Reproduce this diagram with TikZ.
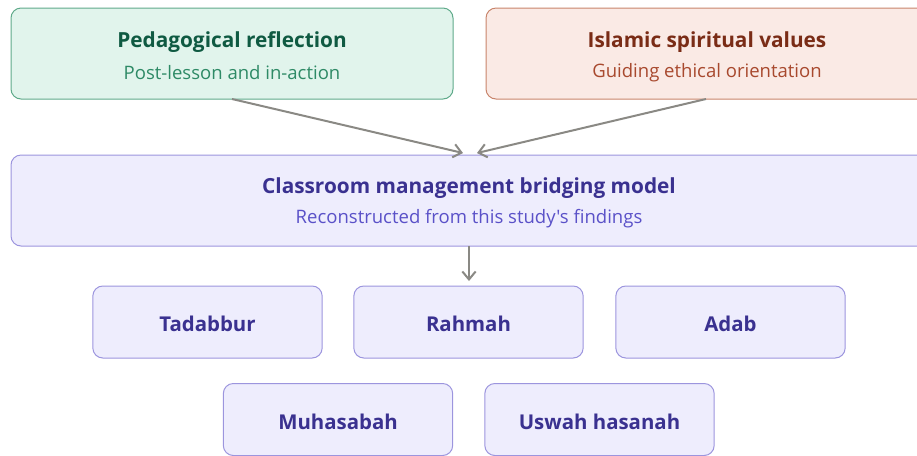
\documentclass[tikz,border=0pt]{standalone}
\usepackage{fontspec}
\setmainfont{Open Sans}[Ligatures=TeXOff]
\usetikzlibrary{arrows.meta}

\definecolor{grnFill}{HTML}{E1F4EC}
\definecolor{grnLine}{HTML}{5FAA8A}
\definecolor{grnTitle}{HTML}{0F5A42}
\definecolor{grnSub}{HTML}{2E8A66}
\definecolor{redFill}{HTML}{FAEAE5}
\definecolor{redLine}{HTML}{C8846B}
\definecolor{redTitle}{HTML}{7A2C16}
\definecolor{redSub}{HTML}{A8492E}
\definecolor{purFill}{HTML}{EEEDFD}
\definecolor{purLine}{HTML}{9C95DE}
\definecolor{purTitle}{HTML}{3A3190}
\definecolor{purSub}{HTML}{5A51C8}
\definecolor{linkGray}{HTML}{8A8984}

% value label lowered a little inside its box
\newcommand{\vlabel}[1]{\raisebox{-1.5pt}[\height][0pt]{#1}}

\tikzset{
  card/.style={draw, line width=0.75pt, rounded corners=7.5pt, inner sep=0pt},
  greencard/.style={card, fill=grnFill, draw=grnLine},
  redcard/.style={card, fill=redFill, draw=redLine},
  purcard/.style={card, fill=purFill, draw=purLine},
  titletext/.style={font=\fontsize{15.6pt}{18pt}\selectfont\bfseries, inner sep=0pt},
  subtext/.style={font=\fontsize{13.9pt}{16pt}\selectfont, inner sep=0pt},
  valuebox/.style={purcard, minimum width=172pt, minimum height=54pt,
    font=\fontsize{15.3pt}{18pt}\selectfont\bfseries, text=purTitle},
  link/.style={draw=linkGray, line width=1.5pt,
    -{Straight Barb[length=6pt, width=10pt, line width=1.5pt]}},
}

\begin{document}
\begin{tikzpicture}[x=0.75pt, y=-0.75pt]
  \useasboundingbox (0,0) rectangle (917,455);
  \clip (0,0) rectangle (917,455);

  % two source cards at the top
  \node[greencard, minimum width=331.5pt, minimum height=68.25pt] (refl) at (232,53.5) {};
  \node[titletext, text=grnTitle] (reflT) at (232,42) {Pedagogical reflection};
  \node[subtext, text=grnSub] (reflS) at (232,73) {Post-lesson and in-action};

  \node[redcard, minimum width=331.5pt, minimum height=68.25pt] (islam) at (707,53.5) {};
  \node[titletext, text=redTitle] (islamT) at (707,42) {Islamic spiritual values};
  \node[subtext, text=redSub] (islamS) at (707,73) {Guiding ethical orientation};

  % central bridging model
  \node[purcard, minimum width=687pt, minimum height=68.25pt] (model) at (469,200.5) {};
  \node[titletext, text=purTitle] (modelT) at (469,188) {Classroom management bridging model};
  \node[subtext, text=purSub] (modelS) at (469,219) {Reconstructed from this study's findings};

  % anchor points for the incoming arrows
  \coordinate (inL) at (463,153);
  \coordinate (inR) at (477,153);
  \coordinate (outL) at (232,99);
  \coordinate (outR) at (706,99);
  \draw[link] (outL) -- (inL);
  \draw[link] (outR) -- (inR);

  % five values
  \node[valuebox] (tadabbur) at (207.5,322) {\vlabel{Tadabbur}};
  \node[valuebox] (rahmah) at (468.5,322) {\vlabel{Rahmah}};
  \node[valuebox] (adab) at (730.5,322) {\vlabel{Adab}};
  \node[valuebox] (muhasabah) at (338,419.5) {\vlabel{Muhasabah}};
  \node[valuebox] (uswah) at (599.5,419.5) {\vlabel{Uswah hasanah}};

  \coordinate (modelBot) at (469,246);
  \coordinate (valTop) at (469,281);
  \draw[link] (modelBot) -- (valTop);
\end{tikzpicture}
\end{document}
